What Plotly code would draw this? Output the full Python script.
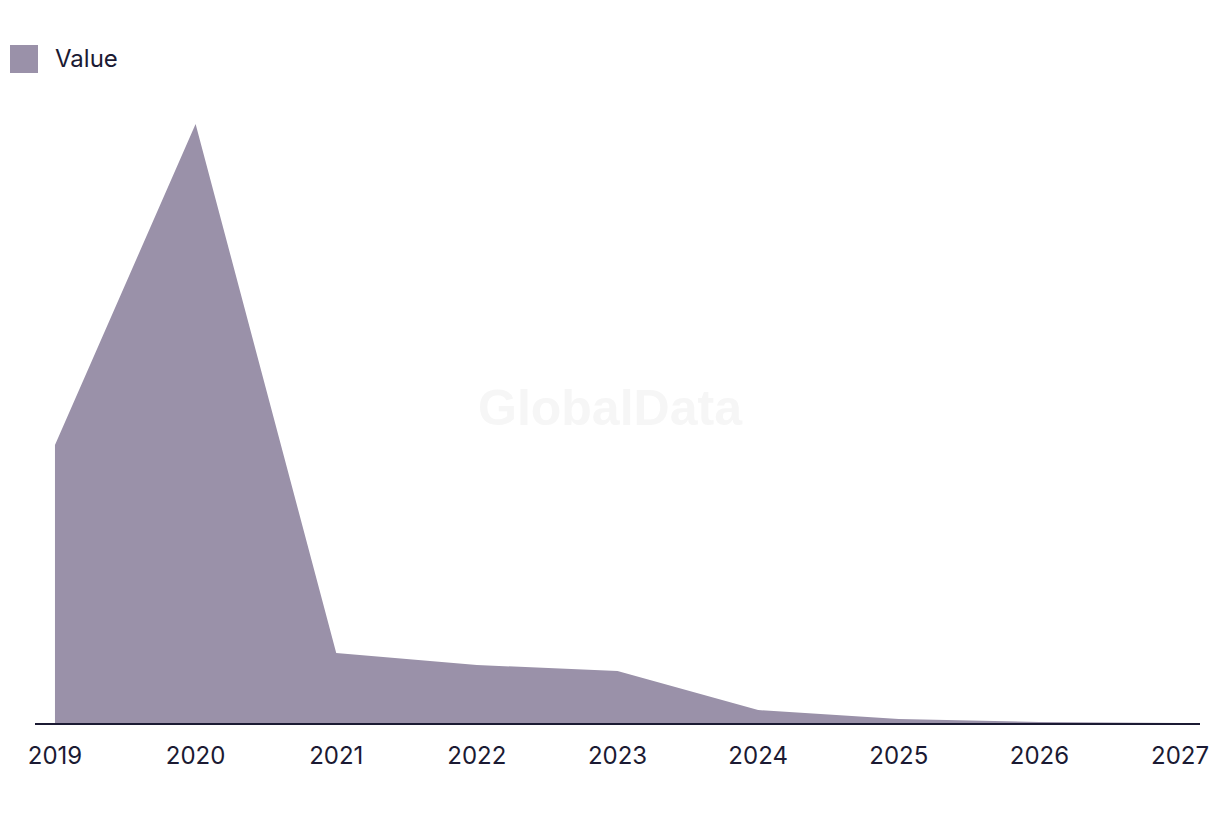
import plotly.graph_objects as go

years = [2019, 2020, 2021, 2022, 2023, 2024, 2025, 2026, 2027]
values = [27.8, 59.9, 7.0, 5.8, 5.2, 1.3, 0.4, 0.1, 0.0]
series_name = "Value"

FILL = "#9a91a9"
DARK = "#1b1a33"
W, H = 1220, 816
L, R, T, B = 35, 20, 100, 93

fig = go.Figure()
fig.add_trace(go.Scatter(
    x=years, y=values, name=series_name, mode="lines",
    line=dict(width=0, color=FILL), fill="tozeroy", fillcolor=FILL,
    showlegend=False, hoverinfo="x+y",
))

# legend (manual)
fig.add_shape(type="rect", xref="paper", yref="paper",
              x0=(10 - L) / (W - L - R), x1=(38 - L) / (W - L - R),
              y0=(H - B - 73) / (H - T - B), y1=(H - B - 45) / (H - T - B),
              fillcolor=FILL, line=dict(width=0))
fig.add_annotation(xref="paper", yref="paper",
                   x=(53 - L) / (W - L - R), y=(H - B - 58) / (H - T - B),
                   xanchor="left", yanchor="middle", text=series_name, showarrow=False,
                   font=dict(size=24, color=DARK, family="Inter"))

# watermark
fig.add_annotation(xref="paper", yref="paper",
                   x=(610 - L) / (W - L - R), y=(H - B - 408) / (H - T - B),
                   text="<b>GlobalData</b>", showarrow=False,
                   font=dict(size=50, color="#f6f6f6", family="Arial"))

fig.update_layout(
    width=W, height=H,
    margin=dict(l=L, r=R, t=T, b=B),
    paper_bgcolor="white", plot_bgcolor="white",
    font=dict(family="Inter", color=DARK, size=20),
    xaxis=dict(range=[2018.858, 2027.142], tickmode="array", tickvals=years,
               ticktext=[str(y) for y in years], showgrid=False, zeroline=False,
               showline=True, linecolor=DARK, linewidth=2,
               ticks="outside", ticklen=10, tickcolor="rgba(0,0,0,0)",
               tickfont=dict(size=24, color=DARK, family="Inter")),
    yaxis=dict(range=[0, 62.3], visible=False, showgrid=False, zeroline=False),
)

fig.write_html("out.html")
